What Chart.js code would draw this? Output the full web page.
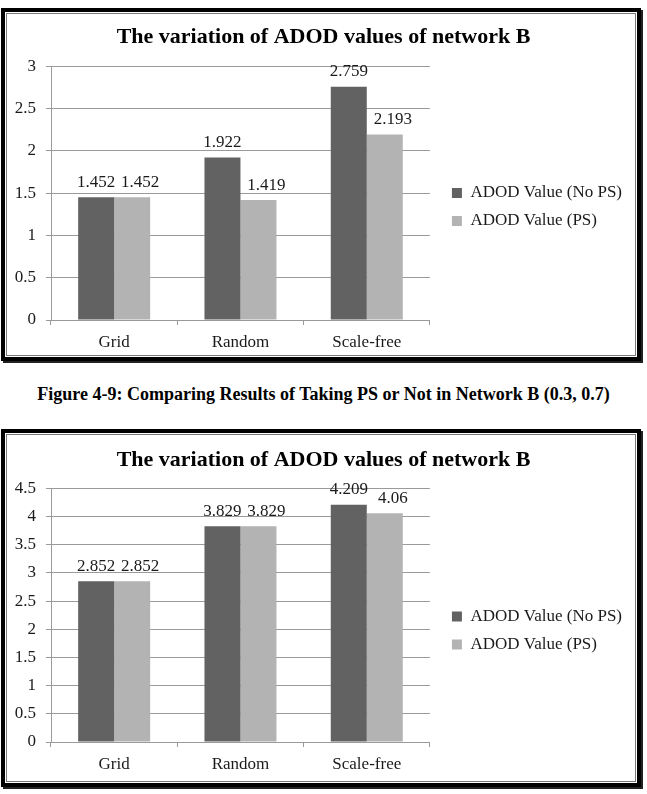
<!DOCTYPE html>
<html>
<head>
<meta charset="utf-8">
<script src="https://cdn.jsdelivr.net/npm/chart.js@4.4.1/dist/chart.umd.min.js"></script>
<style>
  body { margin: 0; background: #fff; width: 647px; height: 794px; position: relative; overflow: hidden; font-family: "Liberation Serif", "Times New Roman", serif; }
  .frame { position: absolute; left: 1px; width: 640px; box-sizing: border-box; border: 4px solid #000; padding: 1px; box-shadow: 2px 2px 0 #222; }
  .frame .inner { width: 100%; height: 100%; box-sizing: border-box; border: 1px solid #7a7a7a; }
  .wrap { position: absolute; left: 0; width: 647px; }
  .caption { position: absolute; left: 0; width: 647px; text-align: center; font-weight: bold; font-size: 18px; line-height: 20px; }
</style>
</head>
<body>
<div class="frame" style="top: 8px; height: 353px;"><div class="inner"></div></div>
<div class="wrap" style="top: 0; height: 358px;"><canvas id="chart1"></canvas></div>

<div class="caption" style="top: 384px;">Figure 4-9: Comparing Results of Taking PS or Not in Network B (0.3, 0.7)</div>

<div class="frame" style="top: 429px; height: 358px;"><div class="inner"></div></div>
<div class="wrap" style="top: 420px; height: 365px;"><canvas id="chart2"></canvas></div>

<script>
const categories = ['Grid', 'Random', 'Scale-free'];
const seriesNames = ['ADOD Value (No PS)', 'ADOD Value (PS)'];
const seriesColors = ['#626262', '#b3b3b3'];

// first chart (0.3, 0.7)
const noPs1 = [1.452, 1.922, 2.759];
const ps1 = [1.452, 1.419, 2.193];
const yMax1 = 3;

// second chart
const noPs2 = [2.852, 3.829, 4.209];
const ps2 = [2.852, 3.829, 4.06];
const yMax2 = 4.5;

const chartTitle = 'The variation of ADOD values of network B';
const serif = '"Liberation Serif", "Times New Roman", serif';

// value labels above the bars (second series nudged right a bit, like Excel did)
const barValues = {
  id: 'barValues',
  afterDatasetsDraw(chart) {
    const ctx = chart.ctx;
    ctx.save();
    ctx.font = '17px ' + serif;
    ctx.fillStyle = '#1a1a1a';
    ctx.textAlign = 'center';
    ctx.textBaseline = 'middle';
    chart.data.datasets.forEach((ds, i) => {
      const dx = i === 1 ? 8 : 0;
      chart.getDatasetMeta(i).data.forEach((bar, j) => {
        ctx.fillText(String(ds.data[j]), bar.x + dx, bar.y - 15);
      });
    });
    ctx.restore();
  }
};

// nudges the title and legend boxes into place after layout
const nudge = {
  id: 'nudge',
  afterLayout(chart, args, opts) {
    const t = chart.titleBlock;
    t.left += opts.titleDx; t.right += opts.titleDx;
    const l = chart.legend;
    l.left += opts.legendDx; l.right += opts.legendDx;
    l.top += opts.legendDy; l.bottom += opts.legendDy;
  }
};

function makeChart(id, noPs, ps, yMax, t) {
  const ctx = document.getElementById(id).getContext('2d');
  return new Chart(ctx, {
    type: 'bar',
    data: {
      labels: categories,
      datasets: [
        { label: seriesNames[0], data: noPs, backgroundColor: seriesColors[0] },
        { label: seriesNames[1], data: ps, backgroundColor: seriesColors[1] }
      ]
    },
    options: {
      responsive: true,
      maintainAspectRatio: false,
      animation: false,
      layout: { padding: { left: 0, right: 26, top: 0, bottom: 0 } },
      datasets: { bar: { categoryPercentage: 0.57, barPercentage: 1.0 } },
      scales: {
        x: {
          grid: { drawOnChartArea: false, drawTicks: true, tickLength: 5, color: '#9a9a9a' },
          border: { color: '#9a9a9a' },
          ticks: { padding: 7, color: '#1a1a1a', font: { family: serif, size: 17 } },
          afterFit: s => { s.height = t.xHeight; }
        },
        y: {
          min: 0, max: yMax,
          grid: { color: '#9a9a9a', tickLength: 5 },
          border: { color: '#9a9a9a' },
          ticks: { stepSize: 0.5, padding: 10, color: '#1a1a1a', font: { family: serif, size: 17 },
                   callback: v => String(v) },
          afterFit: s => { s.width = 51; }
        }
      },
      plugins: {
        title: {
          display: true, text: chartTitle, color: '#000',
          font: { family: serif, size: 22, weight: 'bold' },
          padding: { top: t.titleTop, bottom: t.titleBottom }
        },
        legend: {
          position: 'right', align: 'center', maxWidth: 320,
          labels: { boxWidth: 10, boxHeight: 10, padding: 11, color: '#1a1a1a', font: { family: serif, size: 17 } }
        },
        nudge: { titleDx: 13, legendDx: 11, legendDy: t.legendDy },
        tooltip: { enabled: false }
      }
    },
    plugins: [barValues, nudge]
  });
}

makeChart('chart1', noPs1, ps1, yMax1, { xHeight: 38, titleTop: 24, titleBottom: 16, legendDy: 28 });
makeChart('chart2', noPs2, ps2, yMax2, { xHeight: 43, titleTop: 27, titleBottom: 15, legendDy: 28 });
</script>
</body>
</html>
